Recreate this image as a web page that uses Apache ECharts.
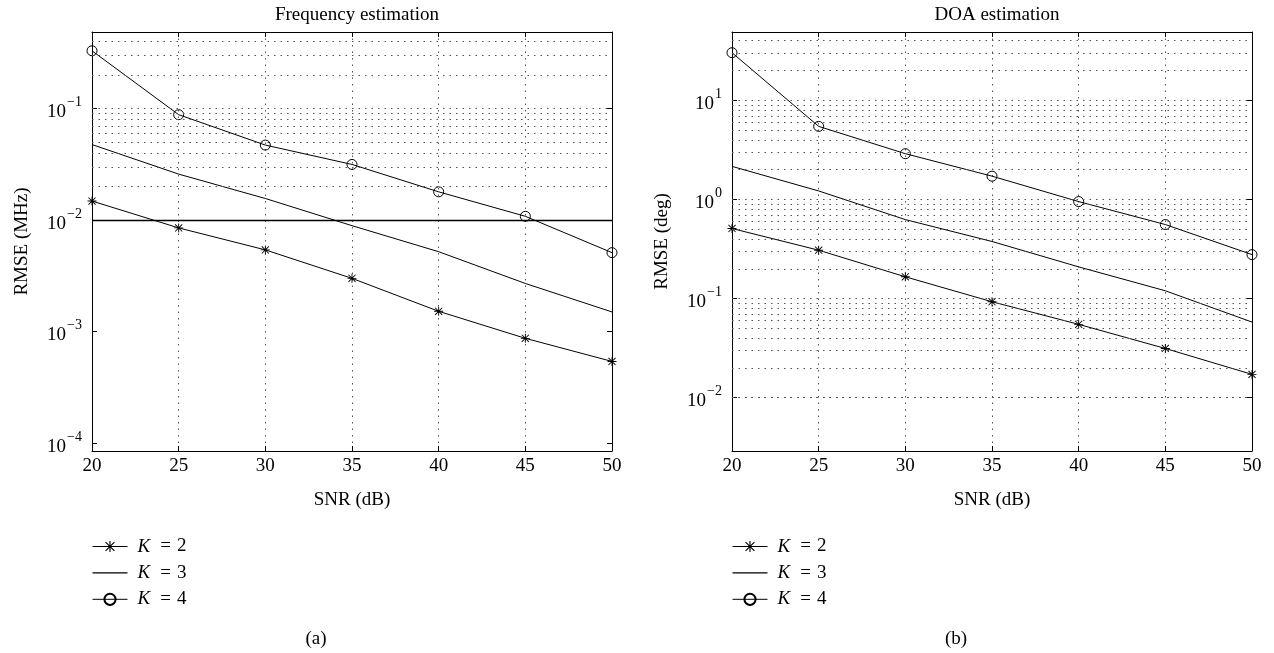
<!DOCTYPE html>
<html>
<head>
<meta charset="utf-8">
<script src="https://cdn.jsdelivr.net/npm/echarts@6/dist/echarts.min.js"></script>
<style>
  html, body { margin: 0; padding: 0; background: #fff; }
  #main { width: 1274px; height: 653px; }
</style>
</head>
<body>
<div id="main"></div>
<script>
// SNR (dB) sample points shared by both panels
const snr = [20, 25, 30, 35, 40, 45, 50];

// (a) frequency estimation RMSE (MHz)
const freqK2 = [0.0148, 0.0085, 0.0054, 0.0030, 0.00152, 0.00087, 0.00054];
const freqK3 = [0.0475, 0.0258, 0.0156, 0.0089, 0.0052, 0.0027, 0.0015];
const freqK4 = [0.329, 0.088, 0.047, 0.0315, 0.0179, 0.0108, 0.0051];
const freqRefLine = 0.01;

// (b) DOA estimation RMSE (deg)
const doaK2 = [0.51, 0.308, 0.166, 0.093, 0.055, 0.0314, 0.0172];
const doaK3 = [2.16, 1.22, 0.627, 0.377, 0.209, 0.12, 0.058];
const doaK4 = [30.3, 5.47, 2.9, 1.72, 0.953, 0.559, 0.278];

const freqRange = [8.5e-5, 0.485];
const doaRange = [0.0029, 49];

const seriesNames = ['K = 2', 'K = 3', 'K = 4'];

const FONT = '"Liberation Serif", "DejaVu Serif", serif';
const STAR = 'path://M9 0L11 0L11 20L9 20Z M0 9L20 9L20 11L0 11Z M1.4 2.8L2.8 1.4L18.6 17.2L17.2 18.6Z M17.2 1.4L18.6 2.8L2.8 18.6L1.4 17.2Z';
// plain line for the legend entry of the marker-less series
const PLAIN = 'path://M0 0L0 0Z M35 14L35 14Z M0 6.4L35 6.4L35 7.6L0 7.6Z';
const dotted = [1.5, 5];

function pairs(ys) {
  return snr.map((x, i) => [x, ys[i]]);
}

// MATLAB style log grid: a dotted line at every 1..9 x 10^k inside the range
function logGrid(range) {
  const out = [];
  const lo = Math.floor(Math.log10(range[0]));
  const hi = Math.ceil(Math.log10(range[1]));
  for (let e = lo; e <= hi; e++) {
    for (let m = 1; m <= 9; m++) {
      const v = Number((m * Math.pow(10, e)).toPrecision(6));
      if (v > range[0] && v < range[1]) out.push({ yAxis: v });
    }
  }
  return out;
}

function expLabel(v) {
  const e = Math.round(Math.log10(v));
  return '{b|10}{s|' + (e < 0 ? '\u2212' + (-e) : e) + '}';
}

function xAxes(gridIndex) {
  return [
    {
      gridIndex, type: 'value', min: 20, max: 50, interval: 5,
      name: 'SNR (dB)', nameLocation: 'middle', nameGap: 40,
      nameTextStyle: { fontFamily: FONT, fontSize: 19, color: '#000' },
      axisLine: { lineStyle: { color: '#000', width: 1 } },
      axisTick: { inside: true, length: 5, lineStyle: { color: '#000' } },
      axisLabel: { fontFamily: FONT, fontSize: 19, color: '#000', margin: 6 },
      splitLine: { show: true, lineStyle: { color: '#555', type: dotted, width: 1 } }
    },
    {
      gridIndex, type: 'value', min: 20, max: 50, interval: 5, position: 'top',
      axisLine: { lineStyle: { color: '#000', width: 1 } },
      axisTick: { inside: true, length: 5, lineStyle: { color: '#000' } },
      axisLabel: { show: false },
      splitLine: { show: false }
    }
  ];
}

function yAxes(gridIndex, range, name) {
  return [
    {
      gridIndex, type: 'log', logBase: 10, min: range[0], max: range[1],
      name, nameLocation: 'middle', nameGap: 60,
      nameTextStyle: { fontFamily: FONT, fontSize: 19, color: '#000' },
      axisLine: { show: true, lineStyle: { color: '#000', width: 1 } },
      axisTick: { inside: true, length: 5, lineStyle: { color: '#000' } },
      axisLabel: {
        showMinLabel: false, showMaxLabel: false, margin: 10,
        formatter: expLabel,
        rich: {
          b: { fontFamily: FONT, fontSize: 19, color: '#000', verticalAlign: 'bottom' },
          s: { fontFamily: FONT, fontSize: 14, color: '#000', verticalAlign: 'top', padding: [0, 0, 12, 1] }
        }
      },
      splitLine: { show: false }
    },
    {
      gridIndex, type: 'log', logBase: 10, min: range[0], max: range[1], position: 'right',
      axisLine: { show: true, lineStyle: { color: '#000', width: 1 } },
      axisTick: { inside: true, length: 5, lineStyle: { color: '#000' } },
      axisLabel: { show: false },
      splitLine: { show: false }
    }
  ];
}

function panelSeries(xi, yi, k2, k3, k4, range, extraLines) {
  const lineStyle = { color: '#000', width: 1 };
  const gridLines = logGrid(range);
  return [
    {
      name: seriesNames[0], type: 'line', xAxisIndex: xi, yAxisIndex: yi,
      data: pairs(k2), symbol: STAR, symbolSize: 9, showAllSymbol: true,
      lineStyle, itemStyle: { color: '#000' }, animation: false
    },
    {
      name: seriesNames[1], type: 'line', xAxisIndex: xi, yAxisIndex: yi,
      data: pairs(k3), symbol: 'none',
      lineStyle, itemStyle: { color: '#000' }, animation: false,
      markLine: {
        silent: true, symbol: 'none', animation: false,
        label: { show: false },
        lineStyle: { color: '#555', type: dotted, width: 1 },
        data: gridLines
      }
    },
    {
      name: seriesNames[2], type: 'line', xAxisIndex: xi, yAxisIndex: yi,
      data: pairs(k4), symbol: 'circle', symbolSize: 10, showAllSymbol: true,
      lineStyle, itemStyle: { color: 'rgba(0,0,0,0)', borderColor: '#000', borderWidth: 1 },
      animation: false,
      markLine: extraLines ? {
        silent: true, symbol: 'none', animation: false,
        label: { show: false },
        lineStyle: { color: '#000', type: 'solid', width: 1.3 },
        data: extraLines.map(v => ({ yAxis: v }))
      } : undefined
    }
  ];
}

function legendFor(left) {
  return {
    left, top: 537, orient: 'vertical', padding: 0,
    data: [
      seriesNames[0],
      { name: seriesNames[1], icon: PLAIN, itemStyle: { color: '#000' } },
      seriesNames[2]
    ],
    itemWidth: 35, itemHeight: 14, itemGap: 7.4,
    lineStyle: { width: 1, color: '#000' },
    formatter: n => '{i|K}{e|=}{t|' + n.slice(-1) + '}',
    textStyle: {
      fontFamily: FONT, fontSize: 19, color: '#000',
      rich: {
        i: { fontFamily: FONT, fontSize: 19, fontStyle: 'italic', color: '#000', padding: [0, 0, 0, 5] },
        e: { fontFamily: FONT, fontSize: 19, color: '#000', padding: [0, 6, 0, 10] },
        t: { fontFamily: FONT, fontSize: 19, color: '#000' }
      }
    },
    selectedMode: false
  };
}

const chart = echarts.init(document.getElementById('main'), null, { renderer: 'canvas' });

const option = {
  backgroundColor: '#fff',
  animation: false,
  title: [
    { text: 'Frequency estimation', left: 352, top: 1, textAlign: 'center',
      textStyle: { fontFamily: FONT, fontSize: 19, fontWeight: 'normal', color: '#000' } },
    { text: 'DOA estimation', left: 992, top: 1, textAlign: 'center',
      textStyle: { fontFamily: FONT, fontSize: 19, fontWeight: 'normal', color: '#000' } },
    { text: '(a)', left: 311, top: 625, textAlign: 'center',
      textStyle: { fontFamily: FONT, fontSize: 19, fontWeight: 'normal', color: '#000' } },
    { text: '(b)', left: 951, top: 625, textAlign: 'center',
      textStyle: { fontFamily: FONT, fontSize: 19, fontWeight: 'normal', color: '#000' } }
  ],
  grid: [
    { left: 92, right: 662, top: 32, bottom: 202, containLabel: false },
    { left: 732, right: 22, top: 32, bottom: 202, containLabel: false }
  ],
  xAxis: [].concat(xAxes(0), xAxes(1)),
  yAxis: [].concat(yAxes(0, freqRange, 'RMSE (MHz)'), yAxes(1, doaRange, 'RMSE (deg)')),
  legend: [legendFor(92), legendFor(732)],
  series: [].concat(
    panelSeries(0, 0, freqK2, freqK3, freqK4, freqRange, [freqRefLine]),
    panelSeries(2, 2, doaK2, doaK3, doaK4, doaRange, null)
  )
};

chart.setOption(option);
</script>
</body>
</html>
